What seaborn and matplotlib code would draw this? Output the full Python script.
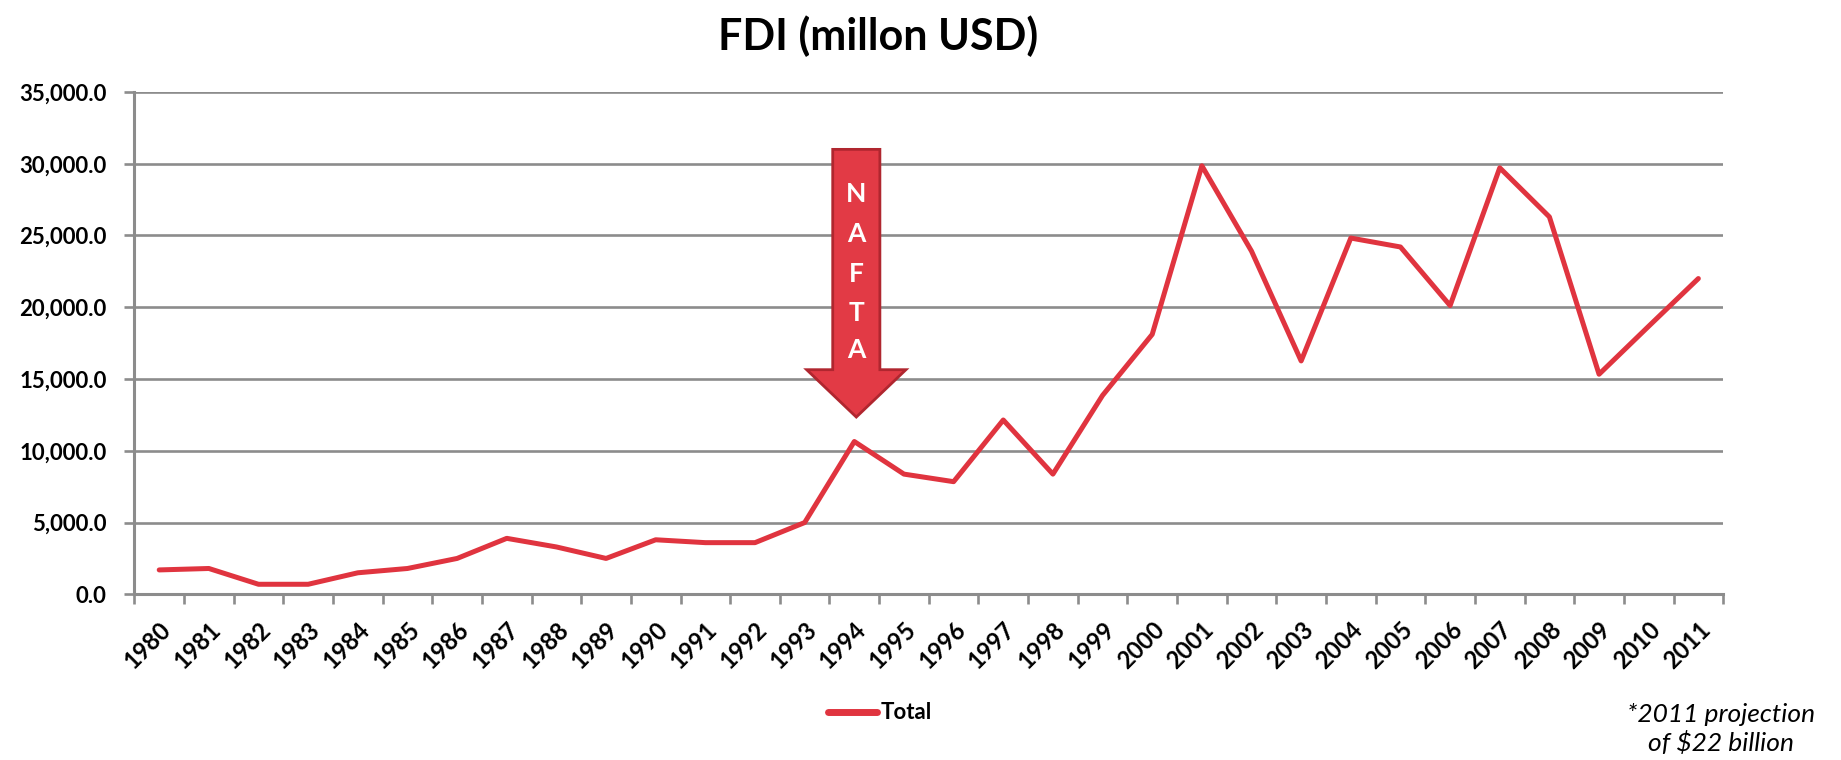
import numpy as np
import pandas as pd
import matplotlib
matplotlib.use("Agg")
import matplotlib.pyplot as plt
import matplotlib.patches as mpatches
import seaborn as sns

years = [str(y) for y in range(1980, 2012)]
fdi_total = [1700, 1800, 700, 700, 1500, 1800, 2500, 3900, 3300, 2500,
             3800, 3600, 3600, 5000, 10646, 8375, 7848, 12146, 8374, 13859,
             18110, 29859, 23911, 16260, 24822, 24200, 20119, 29714, 26295, 15334,
             18679, 22000]
y_ticks = [0, 5000, 10000, 15000, 20000, 25000, 30000, 35000]
arrow_letters = ["N", "A", "F", "T", "A"]

RED = "#E0343F"
GRID = "#8C8C8C"


def main():
    sns.set_style("white")
    plt.rcParams['font.family'] = ['Lato', 'DejaVu Sans']
    plt.rcParams['text.color'] = 'black'
    plt.rcParams['xtick.color'] = 'black'
    plt.rcParams['ytick.color'] = 'black'

    df = pd.DataFrame({"year": years, "fdi": fdi_total, "series": "Total"})
    df["pos"] = np.arange(len(df))

    fig = plt.figure(figsize=(18.41, 7.6), dpi=100)
    ax = fig.add_axes([0.073, 0.218, 0.863, 0.661])

    sns.lineplot(data=df, x="pos", y="fdi", hue="series", palette=[RED],
                 linewidth=3.6, ax=ax, legend=True)

    ax.set_xlim(-0.5, len(years) - 0.5)
    ax.set_ylim(0, 35000)
    ax.set_yticks(y_ticks)
    ax.set_yticklabels([f"{v:,.1f}" for v in y_ticks], fontsize=16, fontweight="bold")
    ax.yaxis.grid(True, color=GRID, linewidth=1.9)
    ax.set_axisbelow(True)

    # category boundaries get tick marks, labels sit in the middle
    ax.set_xticks(np.arange(len(years) + 1) - 0.5)
    ax.set_xticklabels([])
    ax.set_xticks(np.arange(len(years)), minor=True)
    ax.set_xticklabels(years, minor=True, rotation=45, ha="right",
                       rotation_mode="anchor", fontsize=17, fontweight="bold")
    ax.tick_params(axis="x", which="major", length=7, width=1.9, color=GRID, direction="out")
    ax.tick_params(axis="x", which="minor", length=0, pad=17)
    ax.tick_params(axis="y", length=7, width=1.9, color=GRID, direction="out", pad=13)
    ax.xaxis.set_ticks_position("bottom")
    ax.yaxis.set_ticks_position("left")

    for side in ["top", "right"]:
        ax.spines[side].set_visible(False)
    for side in ["left", "bottom"]:
        ax.spines[side].set_color(GRID)
        ax.spines[side].set_linewidth(2.2)

    ax.set_xlabel("")
    ax.set_ylabel("")

    # NAFTA arrow
    arrow = mpatches.FancyArrow(14.04, 31000, 0, -18650, width=0.95, head_width=2.0,
                                head_length=3300, length_includes_head=True,
                                facecolor="#E23A45", edgecolor="#B0262F", linewidth=2, zorder=5)
    ax.add_patch(arrow)
    for letter, yv in zip(arrow_letters, [27900, 25100, 22300, 19600, 17000]):
        ax.text(14.04, yv, letter, color="white", fontsize=19, fontweight="bold",
                ha="center", va="center", zorder=6)

    leg = ax.legend(loc="center", bbox_to_anchor=(0.478, 0.062),
                    bbox_transform=fig.transFigure, frameon=False,
                    handlelength=2.2, handletextpad=0.15,
                    prop={"weight": "bold", "size": 16})
    for line in leg.get_lines():
        line.set_linewidth(5)

    fig.text(0.477, 0.952, "FDI (millon USD)", fontsize=31, fontweight="bold",
             ha="center", va="center")
    fig.text(0.935, 0.041, "*2011 projection\nof $22 billion", fontsize=19,
             style="italic", ha="center", va="center", linespacing=1.25)

    fig.savefig("out.png", dpi=100)
    plt.close()


if __name__ == "__main__":
    main()
